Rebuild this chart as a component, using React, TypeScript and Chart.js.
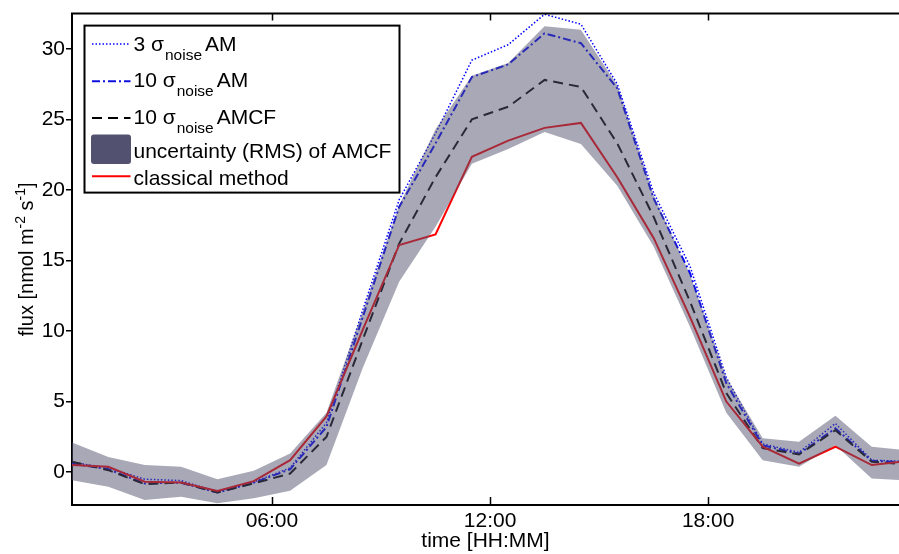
import React, { useEffect, useRef } from 'react';
import { Chart, registerables } from 'chart.js';

Chart.register(...registerables);

// time of each half-hourly-centred hourly value (hours of day)
const hours = [0.5, 1.5, 2.5, 3.5, 4.5, 5.5, 6.5, 7.5, 8.5, 9.5, 10.5, 11.5, 12.5, 13.5, 14.5, 15.5, 16.5, 17.5, 18.5, 19.5, 20.5, 21.5, 22.5, 23.5];

// flux values [nmol m-2 s-1]
const classical = [0.5, 0.38, -0.68, -0.73, -1.34, -0.64, 0.85, 3.95, 10.1, 16.1, 16.85, 22.35, 23.5, 24.4, 24.75, 20.9, 16.6, 11.0, 5.0, 1.8, 0.6, 1.8, 0.5, 0.8];
const amcf10 = [0.73, 0.14, -0.85, -0.73, -1.44, -0.8, -0.1, 2.5, 9.4, 16.2, 20.9, 25.0, 25.9, 27.8, 27.3, 23.3, 18.1, 12.1, 5.6, 1.7, 1.25, 2.97, 0.73, 0.55];
const am10 = [0.6, 0.2, -0.8, -0.75, -1.45, -0.75, 0.2, 3.2, 11.0, 18.8, 23.3, 28.0, 28.9, 31.1, 30.4, 27.2, 19.4, 14.1, 6.3, 1.9, 1.3, 3.1, 0.8, 0.7];
const am3 = [0.7, 0.3, -0.5, -0.6, -1.4, -0.7, 0.3, 3.5, 11.5, 19.3, 24.0, 29.2, 30.3, 32.45, 31.75, 27.5, 19.8, 14.6, 6.7, 2.0, 1.4, 3.45, 0.85, 0.75];
const rmsUpper = [2.1, 1.08, 0.5, 0.38, -0.5, 0.1, 1.32, 4.2, 11.4, 18.9, 24.3, 28.1, 29.0, 31.6, 31.35, 27.4, 19.6, 14.0, 6.7, 2.4, 2.15, 4.0, 1.8, 1.55];
const rmsLower = [-0.57, -1.04, -1.98, -1.75, -2.2, -1.86, -1.32, 0.5, 7.4, 13.5, 17.4, 21.85, 22.9, 24.1, 23.25, 20.3, 16.0, 10.3, 4.2, 0.85, 0.38, 1.9, -0.45, -0.6];

const xTickValues = [6, 12, 18];
const xTickLabels = ['06:00', '12:00', '18:00'];
const yTickValues = [0, 5, 10, 15, 20, 25, 30];

const FONT = "'Liberation Sans', Arial, Helvetica, sans-serif";
const BAND = 'rgba(82,82,112,0.5)';
const BAND_SOLID = 'rgb(82,82,112)';

const pts = (ys: number[]) => hours.map((h, i) => ({ x: h, y: ys[i] }));

const decorPlugin = {
  id: 'decor',
  afterDraw(chart: any) {
    const { ctx, chartArea: ca, scales } = chart;
    const xs = scales.x;
    ctx.save();
    // top axis line
    ctx.strokeStyle = '#000';
    ctx.lineWidth = 2;
    ctx.beginPath();
    ctx.moveTo(ca.left - 1, ca.top);
    ctx.lineTo(ca.right, ca.top);
    ctx.stroke();
    // inward x ticks on bottom and top
    ctx.lineWidth = 1.5;
    xTickValues.forEach((v) => {
      const px = Math.round(xs.getPixelForValue(v)) + 0.5;
      ctx.beginPath();
      ctx.moveTo(px, ca.bottom);
      ctx.lineTo(px, ca.bottom - 8);
      ctx.moveTo(px, ca.top);
      ctx.lineTo(px, ca.top + 7);
      ctx.stroke();
    });

    // y axis title with superscripts
    const big = `20px ${FONT}`;
    const small = `14px ${FONT}`;
    const parts: [string, boolean][] = [['flux [nmol m', false], ['-2', true], [' s', false], ['-1', true], [']', false]];
    let total = 0;
    parts.forEach(([t, sup]) => { ctx.font = sup ? small : big; total += ctx.measureText(t).width; });
    ctx.save();
    ctx.translate(33, (ca.top + ca.bottom) / 2);
    ctx.rotate(-Math.PI / 2);
    ctx.fillStyle = '#000';
    ctx.textBaseline = 'alphabetic';
    ctx.textAlign = 'left';
    let cx = -total / 2;
    parts.forEach(([t, sup]) => {
      ctx.font = sup ? small : big;
      ctx.fillText(t, cx, sup ? -8 : 0);
      cx += ctx.measureText(t).width;
    });
    ctx.restore();

    // legend
    const bx = ca.left + 12.5, by = ca.top + 12;
    const bw = 315, bh = 167;
    ctx.fillStyle = '#fff';
    ctx.fillRect(bx, by, bw, bh);
    ctx.strokeStyle = '#000';
    ctx.lineWidth = 2;
    ctx.strokeRect(bx, by, bw, bh);

    const lx0 = bx + 7.5, lx1 = bx + 46, tx = bx + 49;
    const drawLine = (y: number, color: string, width: number, dash: number[]) => {
      ctx.save();
      ctx.strokeStyle = color;
      ctx.lineWidth = width;
      ctx.setLineDash(dash);
      ctx.beginPath();
      ctx.moveTo(lx0, y);
      ctx.lineTo(lx1, y);
      ctx.stroke();
      ctx.restore();
    };
    const drawSigmaLabel = (pre: string, post: string, baseline: number) => {
      ctx.fillStyle = '#000';
      ctx.textAlign = 'left';
      ctx.textBaseline = 'alphabetic';
      let x = tx;
      ctx.font = `21px ${FONT}`;
      ctx.fillText(pre + ' \u03c3', x, baseline);
      x += ctx.measureText(pre + ' \u03c3').width + 1;
      ctx.font = `15.5px ${FONT}`;
      ctx.fillText('noise', x, baseline + 9);
      x += ctx.measureText('noise').width + 3;
      ctx.font = `21px ${FONT}`;
      ctx.fillText(post, x, baseline);
    };
    drawLine(by + 18.4, '#0000ff', 1.5, [1.5, 2]);
    drawSigmaLabel('3', 'AM', by + 25);
    drawLine(by + 55.7, '#1010e0', 2, [8, 3, 2, 3]);
    drawSigmaLabel('10', 'AM', by + 61.7);
    drawLine(by + 92.4, '#000', 2, [10, 6]);
    drawSigmaLabel('10', 'AMCF', by + 98.4);
    // patch
    ctx.fillStyle = BAND_SOLID;
    const px0 = bx + 6.5, py0 = by + 109, pw = 40, ph = 29.5, r = 3;
    ctx.beginPath();
    ctx.moveTo(px0 + r, py0);
    ctx.lineTo(px0 + pw - r, py0);
    ctx.quadraticCurveTo(px0 + pw, py0, px0 + pw, py0 + r);
    ctx.lineTo(px0 + pw, py0 + ph - r);
    ctx.quadraticCurveTo(px0 + pw, py0 + ph, px0 + pw - r, py0 + ph);
    ctx.lineTo(px0 + r, py0 + ph);
    ctx.quadraticCurveTo(px0, py0 + ph, px0, py0 + ph - r);
    ctx.lineTo(px0, py0 + r);
    ctx.quadraticCurveTo(px0, py0, px0 + r, py0);
    ctx.fill();
    ctx.fillStyle = '#000';
    ctx.font = `21px ${FONT}`;
    ctx.fillText('uncertainty (RMS) of AMCF', tx, by + 132.4);
    drawLine(by + 150.7, '#ff0000', 2, []);
    ctx.fillStyle = '#000';
    ctx.fillText('classical method', tx, by + 159.7);
    ctx.restore();
  },
};

export default function App() {
  const ref = useRef<HTMLCanvasElement | null>(null);
  useEffect(() => {
    if (!ref.current) return;
    const chart = new Chart(ref.current, {
      type: 'line',
      data: {
        datasets: [
          {
            label: 'rms upper',
            data: pts(rmsUpper),
            borderWidth: 0,
            borderColor: 'rgba(0,0,0,0)',
            pointRadius: 0,
            fill: 1,
            backgroundColor: BAND,
            order: 0,
          },
          {
            label: 'rms lower',
            data: pts(rmsLower),
            borderWidth: 0,
            borderColor: 'rgba(0,0,0,0)',
            pointRadius: 0,
            fill: false,
            order: 0,
          },
          {
            label: 'classical method',
            data: pts(classical),
            borderColor: '#ff0000',
            borderWidth: 2,
            pointRadius: 0,
            fill: false,
            order: 1,
          },
          {
            label: '10 sigma AMCF',
            data: pts(amcf10),
            borderColor: '#000000',
            borderWidth: 2,
            borderDash: [10, 6],
            pointRadius: 0,
            fill: false,
            order: 2,
          },
          {
            label: '10 sigma AM',
            data: pts(am10),
            borderColor: '#0000ff',
            borderWidth: 2,
            borderDash: [8, 3, 2, 3],
            pointRadius: 0,
            fill: false,
            order: 3,
          },
          {
            label: '3 sigma AM',
            data: pts(am3),
            borderColor: '#0000ff',
            borderWidth: 1.5,
            borderDash: [1.5, 2],
            pointRadius: 0,
            fill: false,
            order: 4,
          },
        ],
      },
      options: {
        animation: false,
        responsive: false,
        devicePixelRatio: 1,
        layout: { padding: { top: 12, right: 0, left: 0, bottom: 0 } },
        elements: { line: { tension: 0 } },
        plugins: {
          legend: { display: false },
          tooltip: { enabled: false },
          title: { display: false },
        },
        scales: {
          x: {
            type: 'linear',
            position: 'bottom',
            min: 0.5,
            max: 23.25,
            afterBuildTicks: (s: any) => { s.ticks = xTickValues.map((v) => ({ value: v })); },
            afterFit: (s: any) => { s.height = 49; },
            ticks: {
              autoSkip: false,
              maxRotation: 0,
              padding: 4,
              color: '#000',
              font: { family: FONT, size: 21 },
              callback: (v: any) => {
                const i = xTickValues.indexOf(Number(v));
                return i >= 0 ? xTickLabels[i] : '';
              },
            },
            grid: { display: true, drawOnChartArea: false, drawTicks: false },
            border: { display: true, color: '#000', width: 2 },
            title: {
              display: true,
              text: 'time [HH:MM]',
              color: '#000',
              font: { family: FONT, size: 21 },
              padding: { top: 0, bottom: 0 },
            },
          },
          y: {
            type: 'linear',
            min: -2.33,
            max: 32.5,
            afterBuildTicks: (s: any) => { s.ticks = yTickValues.map((v) => ({ value: v })); },
            afterFit: (s: any) => { s.width = 72; },
            ticks: {
              padding: 1,
              color: '#000',
              font: { family: FONT, size: 21 },
            },
            grid: { display: true, drawOnChartArea: false, drawTicks: true, tickLength: 6, color: '#000', lineWidth: 1.5 },
            border: { display: true, color: '#000', width: 2 },
          },
        },
      },
      plugins: [decorPlugin],
    } as any);
    return () => chart.destroy();
  }, []);
  return (
    <div style={{ position: 'absolute', left: 0, top: 0, width: 899, height: 554, background: '#fff' }}>
      <canvas ref={ref} width={899} height={554} style={{ display: 'block' }} />
    </div>
  );
}
